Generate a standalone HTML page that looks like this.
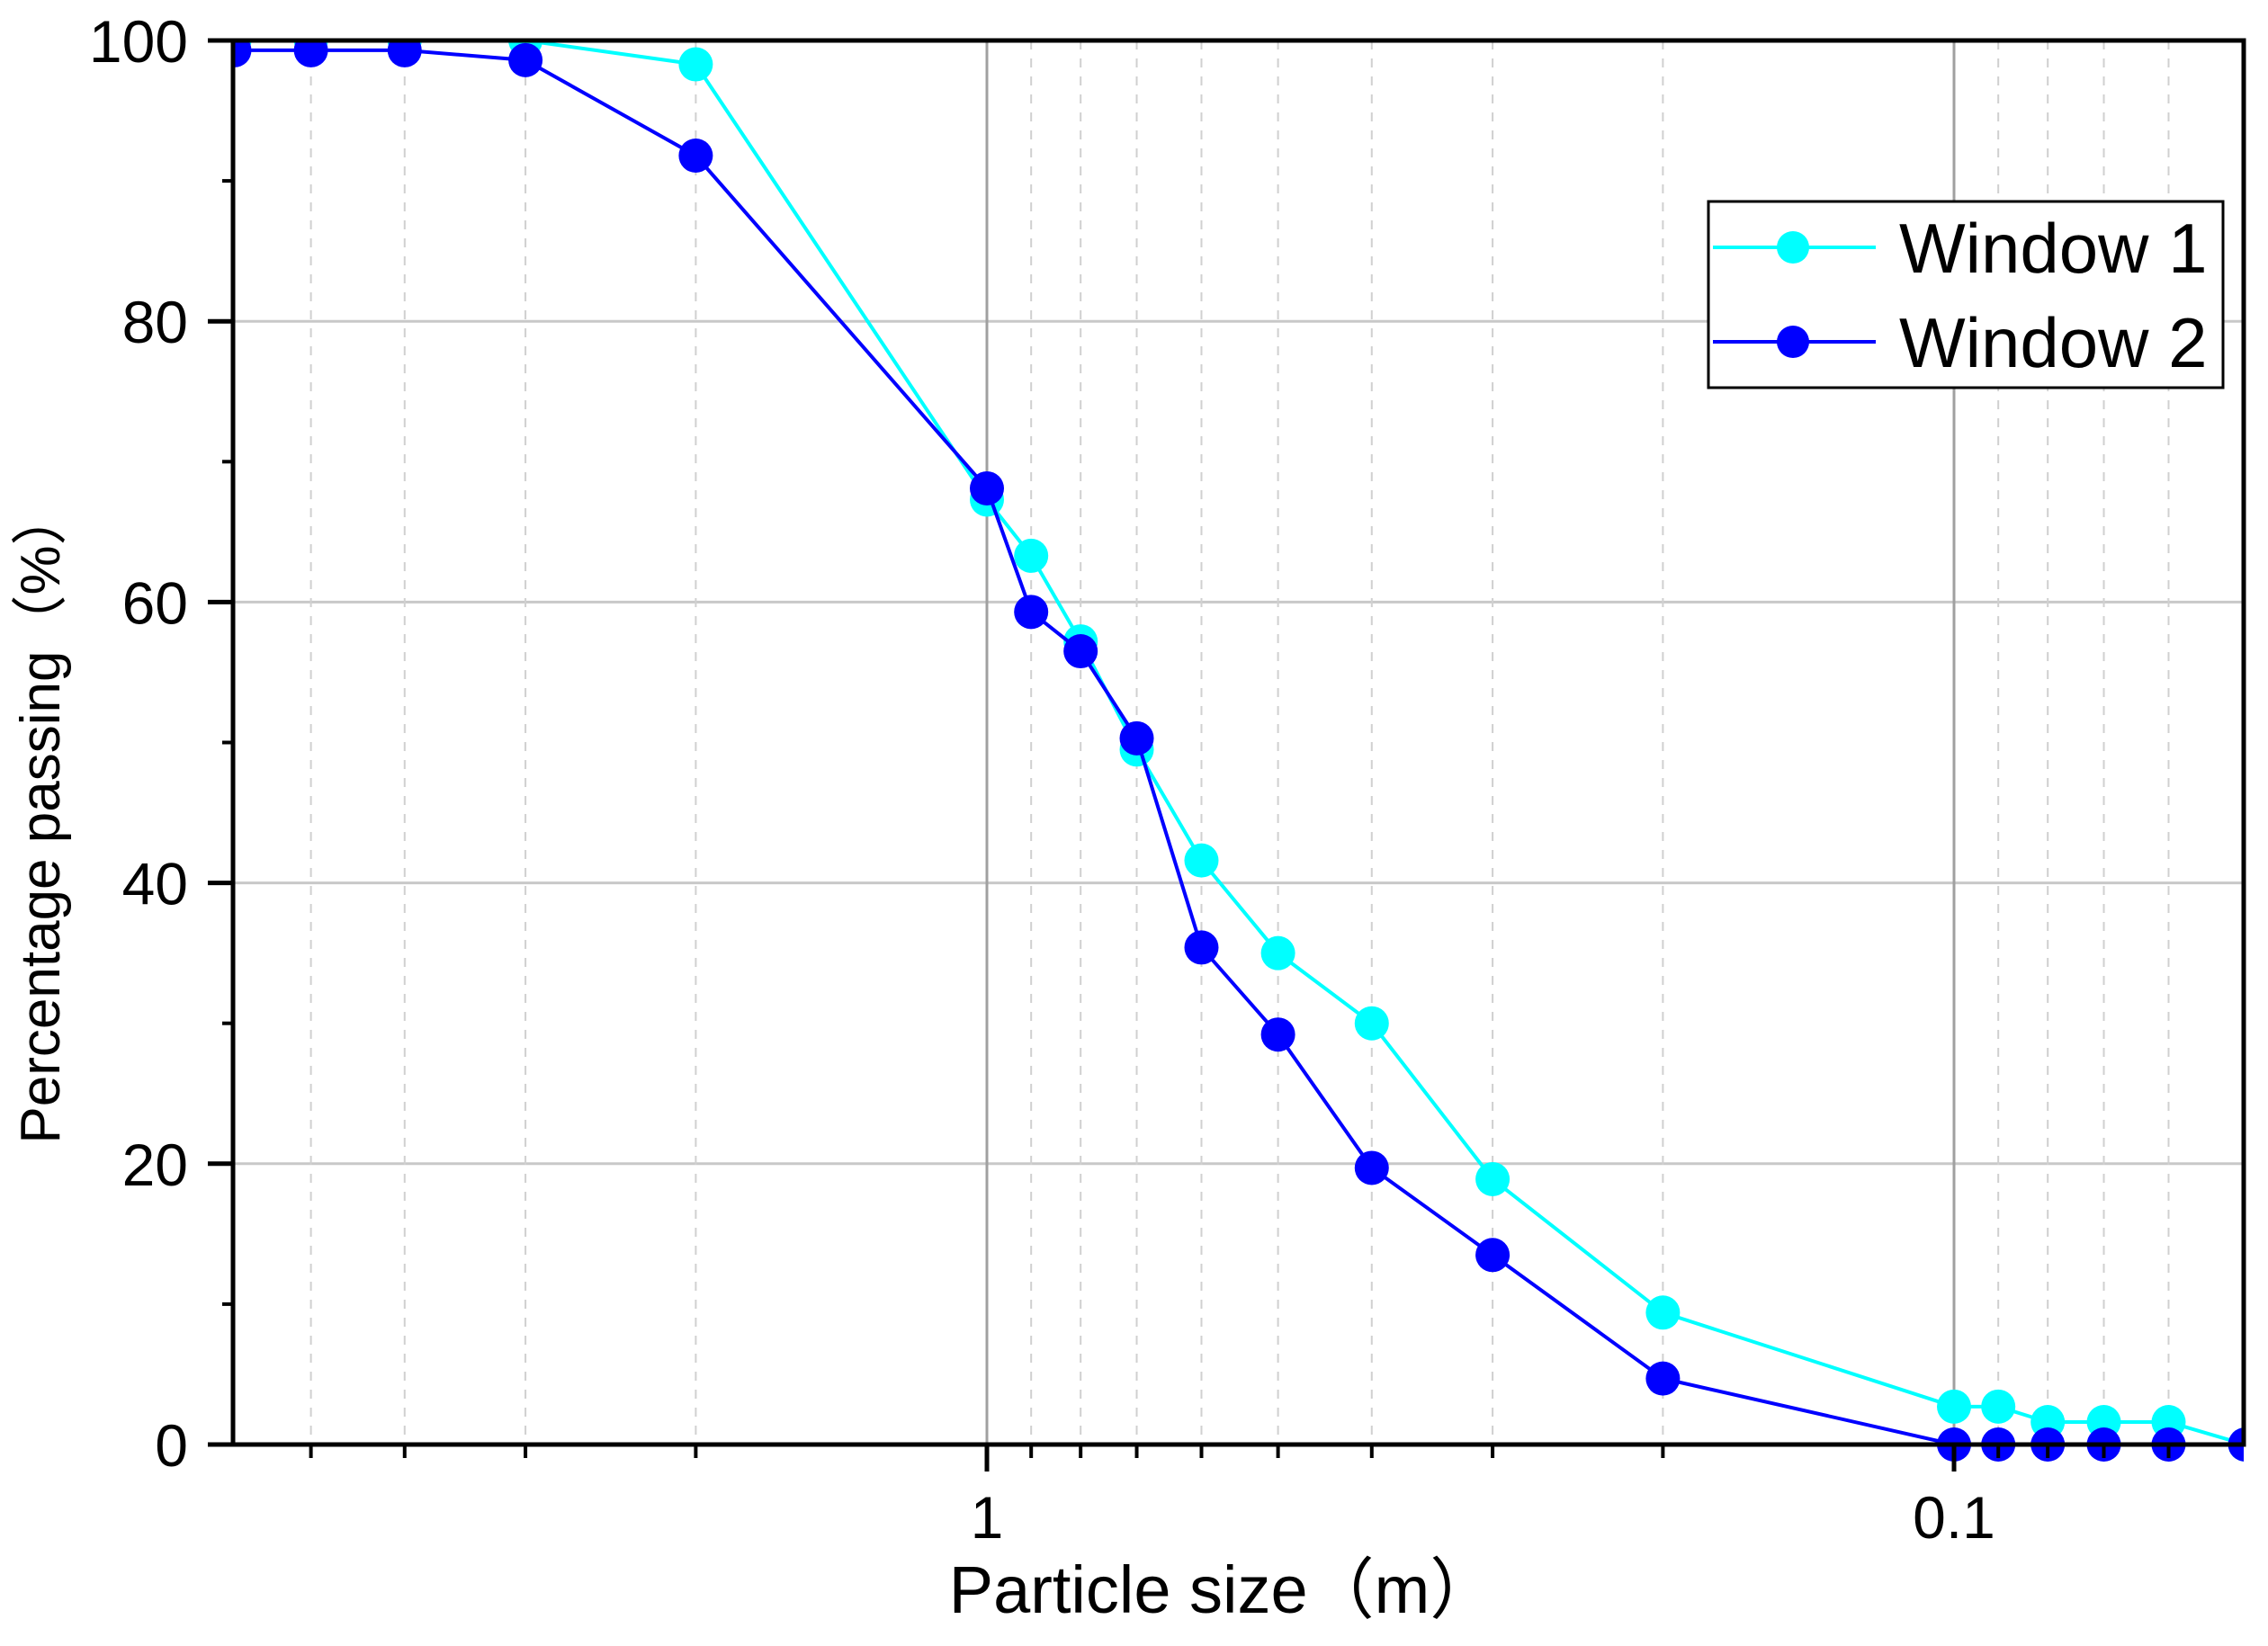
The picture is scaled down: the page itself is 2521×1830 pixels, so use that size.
<!DOCTYPE html>
<html><head><meta charset="utf-8"><style>
html,body{margin:0;padding:0;background:#fff;}
svg{display:block;font-family:"Liberation Sans","Noto Sans CJK SC",sans-serif;}
</style></head><body>
<svg id="chart" width="2521" height="1830" viewBox="0 0 2521 1830">
<defs><clipPath id="plotclip"><rect x="259" y="45" width="2235" height="1600"/></clipPath></defs>
<g id="grid"></g>
<g id="series" clip-path="url(#plotclip)"></g>
<g id="axes"></g>
<g id="legend">
  <rect x="1899" y="224" width="572" height="207" fill="#fff" stroke="#000" stroke-width="3"/>
  <g>
    <line x1="1904" y1="275" x2="2085" y2="275" stroke="#00ffff" stroke-width="4"/>
    <circle cx="1993" cy="275" r="18" fill="#00ffff"/>
    <text x="2111" y="303" font-size="78" fill="#000">Window 1</text>
  </g>
  <g>
    <line x1="1904" y1="380" x2="2085" y2="380" stroke="#0000ff" stroke-width="4"/>
    <circle cx="1993" cy="380" r="18" fill="#0000ff"/>
    <text x="2111" y="408" font-size="78" fill="#000">Window 2</text>
  </g>
</g>
<text x="1359" y="1793" font-size="74" text-anchor="middle">Particle size（m）</text>
<text transform="translate(66,908) rotate(-90)" font-size="62" text-anchor="middle">Percentage passing（%）</text>
</svg>
<script>
const sizes = [6, 5, 4, 3, 2, 1, 0.9, 0.8, 0.7, 0.6, 0.5, 0.4, 0.3, 0.2, 0.1, 0.09, 0.08, 0.07, 0.06, 0.05];
const window1 = [100, 100, 100, 100, 98.3, 67.3, 63.3, 57.2, 49.5, 41.6, 35, 30, 18.9, 9.4, 2.7, 2.7, 1.6, 1.6, 1.6, 0];
const window2 = [99.3, 99.3, 99.3, 98.6, 91.8, 68.1, 59.3, 56.5, 50.3, 35.4, 29.2, 19.7, 13.5, 4.7, 0, 0, 0, 0, 0, 0];
const yTicks = [0, 20, 40, 60, 80, 100];
const yMinorTicks = [10, 30, 50, 70, 90];
const xMajorTicks = [1, 0.1];
const xMajorLabels = ["1", "0.1"];
const xMinorTicks = [5, 4, 3, 2, 0.9, 0.8, 0.7, 0.6, 0.5, 0.4, 0.3, 0.2, 0.09, 0.08, 0.07, 0.06];

const L = 259, R = 2494, T = 45, B = 1606;
const X_ONE = 1097, DEC = 1075;
function xs(v){ return X_ONE - DEC * Math.log10(v); }
function ys(v){ return B - (B - T) * v / 100; }
const NS = "http://www.w3.org/2000/svg";
function mk(tag, attrs, parent){
  const e = document.createElementNS(NS, tag);
  for (const k in attrs) e.setAttribute(k, attrs[k]);
  parent.appendChild(e);
  return e;
}
const grid = document.getElementById('grid');
const axes = document.getElementById('axes');
const series = document.getElementById('series');

yTicks.forEach(v => {
  if (v > 0 && v < 100) {
    const g = mk('line', {x1: L, x2: R, y1: ys(v), y2: ys(v), stroke: '#c8c8c8', 'stroke-width': 3}, grid);
    
    
  }
});
xMinorTicks.forEach(v => {
  const g = mk('line', {x1: xs(v), x2: xs(v), y1: T, y2: B, stroke: '#d0d0d0', 'stroke-width': 2, 'stroke-dasharray': '10,10'}, grid);
  
  
});
xMajorTicks.forEach(v => {
  const g = mk('line', {x1: xs(v), x2: xs(v), y1: T, y2: B, stroke: '#a0a0a0', 'stroke-width': 3}, grid);
  
  
});

function drawSeries(vals, color, name){
  const g = mk('g', {}, series);
  
  
  const pts = sizes.map((s, i) => xs(s) + ',' + ys(vals[i])).join(' ');
  const pl = mk('polyline', {points: pts, fill: 'none', stroke: color, 'stroke-width': 4}, g);
  
  
  sizes.forEach((s, i) => {
    const c = mk('circle', {cx: xs(s), cy: ys(vals[i]), r: 19, fill: color}, g);
    
    
  });
}
drawSeries(window1, '#00ffff', 'window-1');
drawSeries(window2, '#0000ff', 'window-2');

const fr = mk('rect', {x: L, y: T, width: R - L, height: B - T, fill: 'none', stroke: '#000', 'stroke-width': 5}, axes);



yTicks.forEach(v => {
  const t = mk('line', {x1: L - 28, x2: L, y1: ys(v), y2: ys(v), stroke: '#000', 'stroke-width': 5}, axes);
  
  
  const tx = mk('text', {x: L - 50, y: ys(v) + 24, 'font-size': 66, 'text-anchor': 'end'}, axes);
  tx.textContent = String(v);
  
  
});
yMinorTicks.forEach(v => {
  const t = mk('line', {x1: L - 12, x2: L, y1: ys(v), y2: ys(v), stroke: '#000', 'stroke-width': 4}, axes);
  
  
});
xMajorTicks.forEach((v, i) => {
  const t = mk('line', {x1: xs(v), x2: xs(v), y1: B, y2: B + 30, stroke: '#000', 'stroke-width': 5}, axes);
  
  
  const tx = mk('text', {x: xs(v), y: B + 104, 'font-size': 66, 'text-anchor': 'middle'}, axes);
  tx.textContent = xMajorLabels[i];
  
  
});
xMinorTicks.forEach(v => {
  const t = mk('line', {x1: xs(v), x2: xs(v), y1: B, y2: B + 15, stroke: '#000', 'stroke-width': 4}, axes);
  
  
});
</script>
</body></html>
